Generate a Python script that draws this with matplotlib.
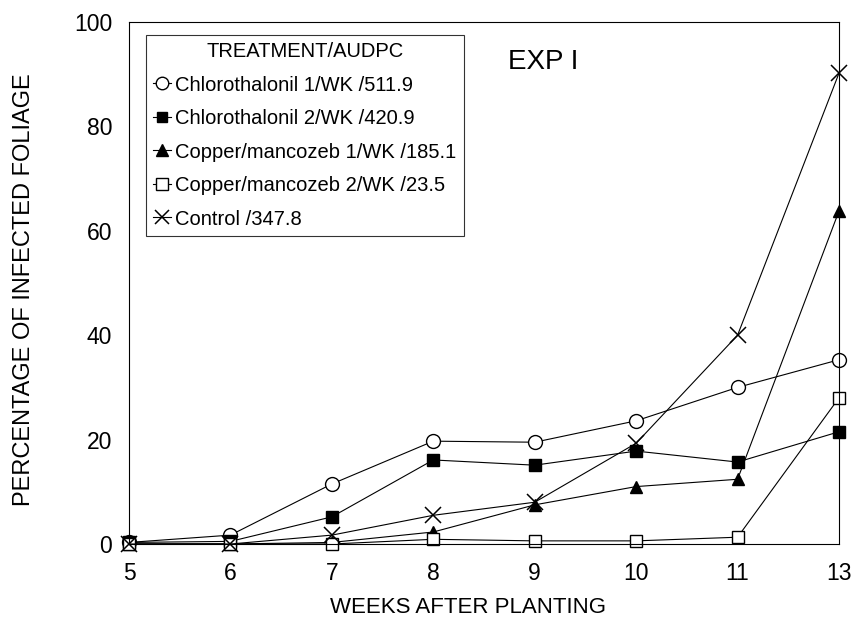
import matplotlib
matplotlib.use("Agg")
import matplotlib.pyplot as plt

plt.rcParams['font.family'] = ['Liberation Sans', 'DejaVu Sans']

weeks = ["5", "6", "7", "8", "9", "10", "11", "13"]
chloro1 = [0.3, 1.7, 11.5, 19.7, 19.5, 23.6, 30.0, 35.3]
chloro2 = [0.3, 0.5, 5.2, 16.1, 15.1, 17.8, 15.7, 21.5]
copman1 = [0.0, 0.0, 0.3, 2.3, 7.5, 11.0, 12.4, 63.8]
copman2 = [0.0, 0.0, 0.0, 0.9, 0.6, 0.6, 1.3, 28.0]
control = [0.0, 0.0, 1.7, 5.5, 8.0, 19.3, 40.0, 90.2]
labels = ["Chlorothalonil 1/WK /511.9", "Chlorothalonil 2/WK /420.9",
          "Copper/mancozeb 1/WK /185.1", "Copper/mancozeb 2/WK /23.5",
          "Control /347.8"]
yticks = [0, 20, 40, 60, 80, 100]

W, H = 852, 625
fig = plt.figure(figsize=(W/100, H/100), dpi=100)
ax = fig.add_axes([129/W, 1-544/H, (839-129)/W, (544-22)/H])
x = list(range(len(weeks)))

styles = [
    dict(marker='o', mfc='white', mec='black', ms=10),
    dict(marker='s', mfc='black', mec='black', ms=8.5),
    dict(marker='^', mfc='black', mec='black', ms=9),
    dict(marker='s', mfc='white', mec='black', ms=9),
    dict(marker='x', mfc='black', mec='black', ms=11, mew=1.1),
]
series = [chloro1, chloro2, copman1, copman2, control]
for s, st, lab in zip(series, styles, labels):
    ax.plot(x, s, color='black', lw=0.8, label=lab, clip_on=False, **st)

ax.set_xlim(0, len(weeks)-1)
ax.set_ylim(0, 100)
ax.set_xticks(x)
ax.set_xticklabels(weeks)
ax.set_yticks(yticks)
ax.tick_params(length=0, labelsize=16.5)
ax.tick_params(axis='y', pad=12)
ax.tick_params(axis='x', pad=13)
for sp in ax.spines.values():
    sp.set_linewidth(0.8)

ax.set_xlabel("WEEKS AFTER PLANTING", fontsize=16)
ax.set_ylabel("PERCENTAGE OF INFECTED FOLIAGE", fontsize=17)
ax.xaxis.set_label_coords((468-129)/710, -(597-544)/522)
ax.yaxis.set_label_coords(-(129-35)/710, (544-290)/522)

fig.text(508/W, 1-62/H, "EXP I", fontsize=20, va='center', ha='left')

leg = ax.legend(title="TREATMENT/AUDPC", loc='upper left',
                bbox_to_anchor=((146-129)/710, (544-35)/522),
                fontsize=14.5, title_fontsize=14.5, frameon=True, fancybox=False,
                edgecolor='black', handlelength=0.9, handletextpad=0.2,
                borderpad=0.35, labelspacing=0.72, borderaxespad=0,
                markerscale=0.9)
leg.get_frame().set_linewidth(0.8)

fig.savefig("out.png", dpi=100)
